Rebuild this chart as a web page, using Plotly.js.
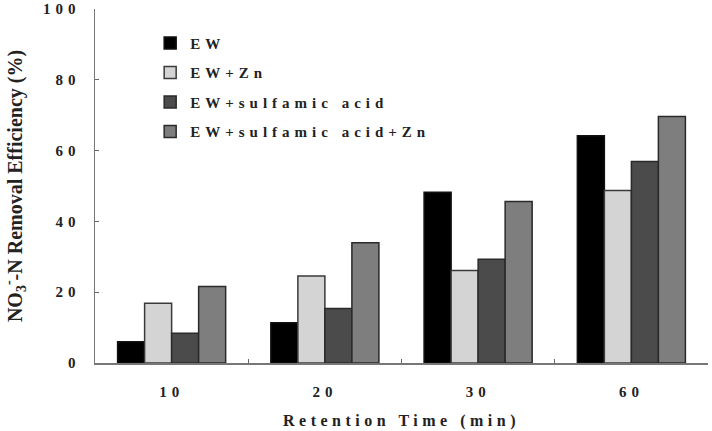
<!DOCTYPE html>
<html>
<head>
<meta charset="utf-8">
<script src="https://cdn.plot.ly/plotly-3.0.1.min.js"></script>
<style>
  html, body { margin: 0; padding: 0; background: #fff; }
  #chart { width: 712px; height: 431px; }
  .xtick text, .ytick text, .legendtext { letter-spacing: 5px; }
  .xtitle { letter-spacing: 4.5px; }
</style>
</head>
<body>
<div id="chart"></div>
<script>
const categories = ['10', '20', '30', '60'];
const seriesNames = ['EW', 'EW+Zn', 'EW+sulfamic acid', 'EW+sulfamic acid+Zn'];
const ew = [6.0, 11.4, 48.2, 64.2];
const ewZn = [16.9, 24.6, 26.1, 48.7];
const ewSulfamic = [8.4, 15.4, 29.3, 56.9];
const ewSulfamicZn = [21.6, 34.0, 45.6, 69.6];
const yTickVals = [0, 20, 40, 60, 80, 100];

const values = [ew, ewZn, ewSulfamic, ewSulfamicZn];
const fills = ['#000000', '#d4d4d4', '#4b4b4b', '#7e7e7e'];
const outlines = ['#111111', '#3a3a3a', '#2a2a2a', '#2a2a2a'];

const serif = 'Liberation Serif, Times New Roman, serif';

const traces = seriesNames.map((name, i) => ({
  type: 'bar',
  name: name,
  x: categories,
  y: values[i],
  legendgroup: 'g' + i,
  marker: { color: fills[i], line: { color: outlines[i], width: 1.5 } },
  hoverinfo: 'skip'
}));

const layout = {
  width: 712,
  height: 431,
  margin: { l: 95, r: 4, t: 9, b: 68 },
  paper_bgcolor: '#ffffff',
  plot_bgcolor: '#ffffff',
  barmode: 'group',
  bargap: 0.295,
  bargroupgap: 0,
  showlegend: true,
  legend: {
    x: 0.09, xanchor: 'left',
    y: 0.95, yanchor: 'top',
    traceorder: 'grouped',
    tracegroupgap: 7,
    font: { family: serif, size: 15, color: '#222', weight: 'bold' },
    bgcolor: 'rgba(0,0,0,0)'
  },
  xaxis: {
    type: 'category',
    tickson: 'boundaries',
    ticks: 'inside',
    ticklen: 4,
    tickcolor: '#666',
    showline: true,
    linecolor: '#777',
    linewidth: 1.5,
    showgrid: false,
    zeroline: false,
    tickfont: { family: serif, size: 15, color: '#222', weight: 'bold' },
    ticklabelstandoff: 14,
    title: {
      text: 'Retention Time (min)',
      font: { family: serif, size: 16, color: '#222', weight: 'bold' },
      standoff: 16
    }
  },
  yaxis: {
    range: [0, 100],
    tickvals: yTickVals,
    ticktext: yTickVals.map(String),
    ticks: 'inside',
    ticklen: 4,
    tickcolor: '#666',
    showline: true,
    linecolor: '#777',
    linewidth: 1.5,
    showgrid: false,
    zeroline: false,
    tickfont: { family: serif, size: 15, color: '#222', weight: 'bold' },
    ticklabelstandoff: 10,
    title: {
      text: 'NO<sub>3</sub><sup>-</sup>-N Removal Efficiency (%)',
      font: { family: serif, size: 20, color: '#222', weight: 'bold' },
      standoff: 15
    }
  }
};

Plotly.newPlot('chart', traces, layout, { displayModeBar: false, staticPlot: true });
</script>
</body>
</html>
